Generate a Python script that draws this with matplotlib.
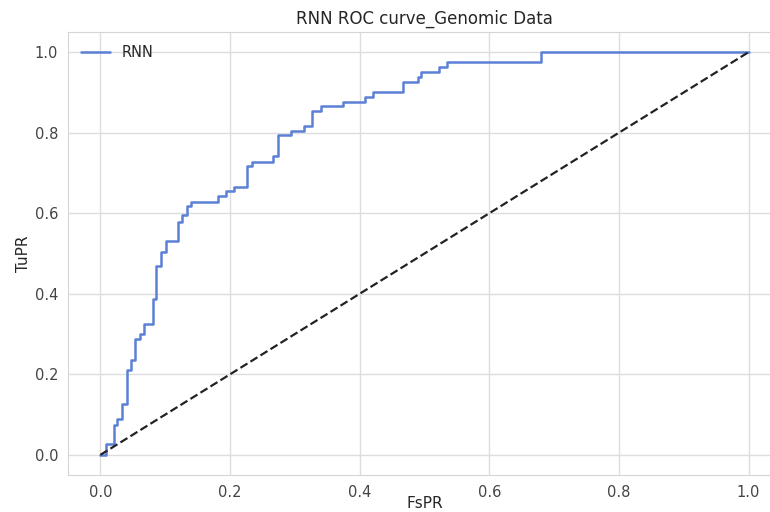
import matplotlib
matplotlib.use("Agg")
import matplotlib.pyplot as plt
import seaborn as sns

sns.set_style("whitegrid")
plt.rcParams['font.family'] = ['DejaVu Sans']

# ROC curve step points (false positive rate, true positive rate)
fpr = [0.0, 0.008, 0.021, 0.026, 0.033, 0.041, 0.047, 0.054, 0.061, 0.067,
       0.081, 0.086, 0.094, 0.101, 0.120, 0.126, 0.134, 0.140, 0.181, 0.193,
       0.206, 0.226, 0.234, 0.267, 0.274, 0.294, 0.314, 0.326, 0.341, 0.375,
       0.408, 0.421, 0.467, 0.490, 0.494, 0.522, 0.535, 0.680, 1.0]
tpr = [0.0, 0.027, 0.074, 0.089, 0.127, 0.211, 0.236, 0.287, 0.300, 0.325,
       0.386, 0.469, 0.504, 0.531, 0.579, 0.596, 0.618, 0.628, 0.643, 0.656,
       0.666, 0.718, 0.728, 0.742, 0.794, 0.804, 0.816, 0.854, 0.866, 0.877,
       0.889, 0.901, 0.926, 0.939, 0.951, 0.963, 0.975, 1.0, 1.0]
chance = [0.0, 1.0]
ticks = [0.0, 0.2, 0.4, 0.6, 0.8, 1.0]

fig = plt.figure(figsize=(7.7, 5.12), dpi=100)
ax = fig.add_axes([68/770, 1-475/512, 713/770, 443/512])

ax.step(fpr, tpr, where='post', color='#5b80d6', lw=1.8, label='RNN')
ax.plot(chance, chance, '--', lw=1.6, color='#222222')

ax.set_xlim(-0.05, 1.05)
ax.set_ylim(-0.05, 1.05)
ax.set_xticks(ticks)
ax.set_yticks(ticks)
ax.set_xticklabels([f"{t:.1f}" for t in ticks])
ax.set_yticklabels([f"{t:.1f}" for t in ticks])
ax.tick_params(labelsize=10.5, colors='#444444')
ax.grid(True, color='#dddddd', lw=1.0)
for s in ax.spines.values():
    s.set_color('#d5d5d5')

ax.set_title("RNN ROC curve_Genomic Data", fontsize=12, color='#262626', pad=6)
ax.set_xlabel("FsPR", fontsize=11, color='#262626', labelpad=-3)
ax.set_ylabel("TuPR", fontsize=11, color='#262626', labelpad=3)
ax.legend(loc='upper left', frameon=False, fontsize=10.5)

fig.savefig("out.png", dpi=100)
